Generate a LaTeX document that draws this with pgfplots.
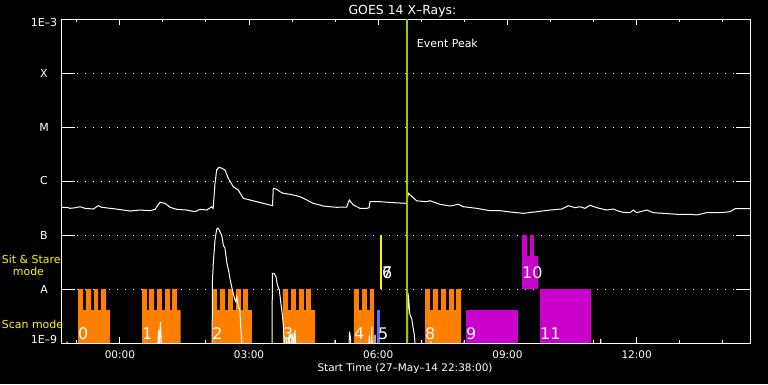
\documentclass[border=0pt]{standalone}
\usepackage{fontspec}
\setmainfont{DejaVu Sans}
\usepackage{pgfplots}
\pgfplotsset{compat=1.18}
\definecolor{scanorange}{RGB}{255,128,0}
\definecolor{mag}{RGB}{204,0,204}
\definecolor{blu}{RGB}{102,102,255}
\definecolor{peakgreen}{RGB}{153,204,0}
\newcommand{\fs}[1]{\fontsize{#1}{#1}\selectfont}
\begin{document}
\begin{tikzpicture}[x=1bp,y=1bp]
\path[use as bounding box] (0,0) rectangle (768,384);
\fill[black] (0,0) rectangle (768,384);
\begin{axis}[
  at={(61bp,41bp)}, anchor=south west,
  scale only axis, width=689bp, height=324bp,
  xmin=0, xmax=960,
  ymode=log, ymin=1e-9, ymax=1e-3,
  axis line style={white, line width=1bp},
  xtick={82,262,442,622,802},
  xticklabels={00:00,03:00,06:00,09:00,12:00},
  minor xtick={22,142,202,322,382,502,562,682,742,862,922},
  major tick length=6.5bp, minor tick length=3.5bp,
  tick style={white, line width=1bp},
  ytick={1e-9,1e-8,1e-7,1e-6,1e-5,1e-4,1e-3},
  yticklabels={{\raisebox{3bp}[\height][\depth]{1E--9}},A,B,C,M,X,{\raisebox{-3.8bp}[\height][\depth]{1E--3}}},
  ytick style={draw=none},
  yminorticks=false,
  ymajorgrids,
  major grid style={white, line width=1bp, dash pattern=on 1bp off 7bp},
  xticklabel style={font=\fs{10.5}, text=white, anchor=center, yshift=-12bp},
  yticklabel style={font=\fs{11}, text=white, anchor=center, xshift=-17bp},
  xlabel={Start Time (27--May--14 22:38:00)},
  xlabel style={at={(axis description cs:0.4993,0)}, anchor=base, yshift=-28.7bp, font=\fs{10.5}, text=white},
]
% scan mode blocks (orange)
\addplot[fill=scanorange, draw=none] coordinates {(23.7,1e-9)(23.7,1e-8)(30.7,1e-8)(30.7,4.08e-9)(34.8,4.08e-9)(34.8,1e-8)(41.8,1e-8)(41.8,4.08e-9)(46.0,4.08e-9)(46.0,1e-8)(51.6,1e-8)(51.6,4.08e-9)(55.7,4.08e-9)(55.7,1e-8)(62.7,1e-8)(62.7,4.08e-9)(68.3,4.08e-9)(68.3,1e-9)} -- cycle;
\addplot[fill=scanorange, draw=none] coordinates {(112.9,1e-9)(112.9,1e-8)(119.8,1e-8)(119.8,4.08e-9)(122.6,4.08e-9)(122.6,1e-8)(129.6,1e-8)(129.6,4.08e-9)(133.8,4.08e-9)(133.8,1e-8)(140.7,1e-8)(140.7,4.08e-9)(144.9,4.08e-9)(144.9,1e-8)(151.9,1e-8)(151.9,4.08e-9)(154.7,4.08e-9)(154.7,1e-8)(161.6,1e-8)(161.6,4.08e-9)(166.8,4.08e-9)(166.8,1e-9)} -- cycle;
\addplot[fill=scanorange, draw=none] coordinates {(210.8,1e-9)(210.8,1e-8)(217.4,1e-8)(217.4,4.08e-9)(221.5,4.08e-9)(221.5,1e-8)(228.5,1e-8)(228.5,4.08e-9)(232.7,4.08e-9)(232.7,1e-8)(239.6,1e-8)(239.6,4.08e-9)(243.8,4.08e-9)(243.8,1e-8)(250.8,1e-8)(250.8,4.08e-9)(253.6,4.08e-9)(253.6,1e-8)(260.5,1e-8)(260.5,4.08e-9)(266.1,4.08e-9)(266.1,1e-9)} -- cycle;
\addplot[fill=scanorange, draw=none] coordinates {(309.3,1e-9)(309.3,1e-8)(316.3,1e-8)(316.3,4.08e-9)(320.5,4.08e-9)(320.5,1e-8)(327.4,1e-8)(327.4,4.08e-9)(331.6,4.08e-9)(331.6,1e-8)(338.6,1e-8)(338.6,4.08e-9)(341.4,4.08e-9)(341.4,1e-8)(348.3,1e-8)(348.3,4.08e-9)(353.9,4.08e-9)(353.9,1e-9)} -- cycle;
\addplot[fill=scanorange, draw=none] coordinates {(408.2,1e-9)(408.2,1e-8)(415.1,1e-8)(415.1,4.08e-9)(419.4,4.08e-9)(419.4,1e-8)(426.3,1e-8)(426.3,4.08e-9)(430.5,4.08e-9)(430.5,1e-8)(436.1,1e-8)(436.1,1e-9)} -- cycle;
\addplot[fill=scanorange, draw=none] coordinates {(507.2,1e-9)(507.2,1e-8)(514.1,1e-8)(514.1,4.08e-9)(518.3,4.08e-9)(518.3,1e-8)(525.3,1e-8)(525.3,4.08e-9)(529.5,4.08e-9)(529.5,1e-8)(536.5,1e-8)(536.5,4.08e-9)(540.6,4.08e-9)(540.6,1e-8)(547.6,1e-8)(547.6,4.08e-9)(550.4,4.08e-9)(550.4,1e-8)(557.4,1e-8)(557.4,1e-9)} -- cycle;
% blue block 5
\addplot[fill=blu, draw=none] coordinates {(440.3,1e-9)(440.3,4.08e-9)(444.5,4.08e-9)(444.5,1e-9)} -- cycle;
% magenta blocks
\addplot[fill=mag, draw=none] coordinates {(564.3,1e-9)(564.3,4.08e-9)(636.3,4.08e-9)(636.3,1e-9)} -- cycle;
\addplot[fill=mag, draw=none] coordinates {(642.3,1e-8)(642.3,1e-7)(649.3,1e-7)(649.3,4.08e-8)(653.5,4.08e-8)(653.5,1e-7)(659.0,1e-7)(659.0,4.08e-8)(664.6,4.08e-8)(664.6,1e-8)} -- cycle;
\addplot[fill=mag, draw=none] coordinates {(667.4,1e-9)(667.4,1e-8)(738.4,1e-8)(738.4,1e-9)} -- cycle;
% sit and stare (yellow)
\addplot[yellow, line width=2bp] coordinates {(445.9,1e-8)(445.9,1e-7)};
% GOES long channel
\addplot[white, line width=1bp] coordinates {(0,3.26e-7)(8.4,3.26e-7)(12.5,3.12e-7)(20,3.2e-7)(26.5,3.34e-7)(33.4,3.12e-7)(45.0,3.03e-7)(52.0,3.49e-7)(56.7,3.26e-7)(68.3,3.12e-7)(79.8,2.99e-7)(96.1,2.78e-7)(110.1,2.90e-7)(124.0,2.82e-7)(131.0,2.99e-7)(137.9,4.03e-7)(144.9,3.86e-7)(151.9,3.26e-7)(161.2,2.99e-7)(175.1,2.90e-7)(186.7,2.70e-7)(193.7,2.99e-7)(203.0,2.90e-7)(210.0,3.34e-7)(212.0,3.12e-7)(214.6,9.06e-7)(216.9,1.60e-6)(220.1,1.79e-6)(222.9,1.75e-6)(228.5,1.60e-6)(233.1,1.12e-6)(240.1,7.84e-7)(247.0,6.81e-7)(254.0,4.78e-7)(263.3,4.45e-7)(272.7,4.14e-7)(281.9,3.86e-7)(291.2,3.59e-7)(294.7,3.5e-7)(295.8,7.33e-7)(300.6,7.02e-7)(305.1,6.34e-7)(309.7,5.92e-7)(319.1,5.67e-7)(323.7,5.51e-7)(333.0,5.12e-7)(337.6,4.78e-7)(346.9,4.14e-7)(351.5,3.86e-7)(360.9,3.59e-7)(365.5,3.44e-7)(374.8,3.34e-7)(384.1,3.26e-7)(398.1,3.3e-7)(401.7,4.45e-7)(407.3,3.6e-7)(416.6,3.12e-7)(426.0,3.12e-7)(429.2,3.2e-7)(430.6,4.14e-7)(444.5,4.14e-7)(463.0,3.97e-7)(481.7,3.86e-7)(484.0,5.92e-7)(495.6,4.29e-7)(509.6,4.14e-7)(514.1,4.32e-7)(528.1,3.70e-7)(542.0,3.44e-7)(553.6,3.70e-7)(560.5,3.34e-7)(579.2,3.12e-7)(597.7,2.82e-7)(611.7,2.82e-7)(625.6,2.67e-7)(644.1,2.52e-7)(662.8,2.70e-7)(681.3,2.90e-7)(697.6,3.03e-7)(706.8,3.49e-7)(716.2,3.21e-7)(723.1,3.34e-7)(730.1,3.12e-7)(737.1,3.55e-7)(746.4,3.21e-7)(760.3,2.90e-7)(769.5,3.03e-7)(776.5,2.78e-7)(783.5,2.63e-7)(792.8,2.59e-7)(797.4,2.90e-7)(802.1,2.59e-7)(816.1,2.90e-7)(825.3,2.59e-7)(839.2,2.52e-7)(857.9,2.42e-7)(876.4,2.42e-7)(885.7,2.35e-7)(899.7,2.59e-7)(918.2,2.59e-7)(932.2,2.70e-7)(939.1,3.07e-7)(957.7,3.07e-7)(960,3.07e-7)};
% GOES short channel
\addplot[white, line width=1bp] coordinates {(0,7e-10)(8.0,7e-10)(8.4,1.06e-9)(8.8,7e-10)(134.5,7e-10)(136.0,1.74e-9)(137.0,9e-10)(138.6,2.45e-9)(140.2,7e-10)(210.5,7e-10)(211.0,1.36e-8)(212.2,2.99e-8)(214.6,8.08e-8)(216.9,1.28e-7)(218.1,1.33e-7)(219.5,1.3e-7)(221.5,1.15e-7)(223.9,1.0e-7)(226.1,6.53e-8)(228.5,5.67e-8)(230.9,3.16e-8)(233.5,2.2e-8)(235.5,1.53e-8)(237.8,1.10e-8)(240.1,8.08e-9)(242.5,6.25e-9)(243.7,5.82e-9)(245.0,7.2e-9)(247.1,4.70e-9)(249.3,4.08e-9)(250.5,1.87e-9)(251.9,1.06e-9)(252.5,7e-10)(294.0,7e-10)(294.5,1.95e-8)(296.8,1.95e-8)(299.6,1.69e-8)(301.4,1.19e-8)(304.2,9.58e-9)(306.1,5.82e-9)(307.9,3.80e-9)(309.8,2.15e-9)(311.1,1.06e-9)(312,7e-10)(313,7e-10)(314,1.29e-9)(315,7e-10)(318,1.41e-9)(319,7e-10)(323,1.51e-9)(324,7e-10)(326,1.74e-9)(327.5,7e-10)(381,7e-10)(381.8,1.14e-9)(382.5,7e-10)(401,7e-10)(402,1.62e-9)(403.2,1.29e-9)(404,7e-10)(429,7e-10)(429.6,1.41e-9)(430.3,7e-10)(432.5,7e-10)(433,2.0e-9)(433.6,7e-10)(437,7e-10)(437.5,1.41e-9)(438,7e-10)(482.8,7e-10)(483.3,8.32e-9)(484.3,7.2e-9)(485.3,4.39e-9)(486.3,3.30e-9)(488.6,2.87e-9)(490.0,2.15e-9)(492.3,1.41e-9)(494.2,7e-10)(502,7e-10)(502.5,1.14e-9)(503,7e-10)(514.5,7e-10)(515.5,1.06e-9)(516.5,7e-10)(561.4,7e-10)(561.9,1.14e-9)(562.4,7e-10)(751.5,7e-10)(752,1.19e-9)(752.5,7e-10)(960,7e-10)};
% event peak
\addplot[peakgreen, line width=2bp] coordinates {(482.1,1e-9)(482.1,1e-3)};
% y ticks (solid segments)
\draw[white, line width=1bp] (axis cs:0,1e-8) -- (axis cs:19.5,1e-8) (axis cs:940.5,1e-8) -- (axis cs:960,1e-8);
\draw[white, line width=1bp] (axis cs:0,1e-7) -- (axis cs:19.5,1e-7) (axis cs:940.5,1e-7) -- (axis cs:960,1e-7);
\draw[white, line width=1bp] (axis cs:0,1e-6) -- (axis cs:19.5,1e-6) (axis cs:940.5,1e-6) -- (axis cs:960,1e-6);
\draw[white, line width=1bp] (axis cs:0,1e-5) -- (axis cs:19.5,1e-5) (axis cs:940.5,1e-5) -- (axis cs:960,1e-5);
\draw[white, line width=1bp] (axis cs:0,1e-4) -- (axis cs:19.5,1e-4) (axis cs:940.5,1e-4) -- (axis cs:960,1e-4);
% labels
\node[text=white, anchor=base west, inner sep=0pt, font=\fs{11}] at (axis cs:495.6,2.99e-4) {Event Peak};
\begin{scope}[every node/.style={text=white, anchor=base west, inner sep=0pt, font=\fs{16}}]
\node at (axis cs:23.7,1.16e-9) {0};
\node at (axis cs:112.9,1.16e-9) {1};
\node at (axis cs:210.8,1.16e-9) {2};
\node at (axis cs:309.3,1.16e-9) {3};
\node at (axis cs:408.2,1.16e-9) {4};
\node at (axis cs:441.7,1.16e-9) {5};
\node at (axis cs:447.2,1.58e-8) {6};
\node at (axis cs:447.2,1.58e-8) {7};
\node at (axis cs:507.2,1.16e-9) {8};
\node at (axis cs:564.3,1.16e-9) {9};
\node at (axis cs:642.3,1.58e-8) {10};
\node at (axis cs:667.4,1.16e-9) {11};
\end{scope}
\end{axis}
\node[text=white, anchor=base, inner sep=0pt, font=\fs{12.5}] at (402.5,370) {GOES 14 X--Rays:};
\node[text=yellow, anchor=base west, inner sep=0pt, font=\fs{11}] at (1.7,121) {Sit \& Stare};
\node[text=yellow, anchor=base west, inner sep=0pt, font=\fs{11}] at (12.7,109) {mode};
\node[text=yellow, anchor=base west, inner sep=0pt, font=\fs{11}] at (1.7,55.7) {Scan mode};
\end{tikzpicture}
\end{document}
